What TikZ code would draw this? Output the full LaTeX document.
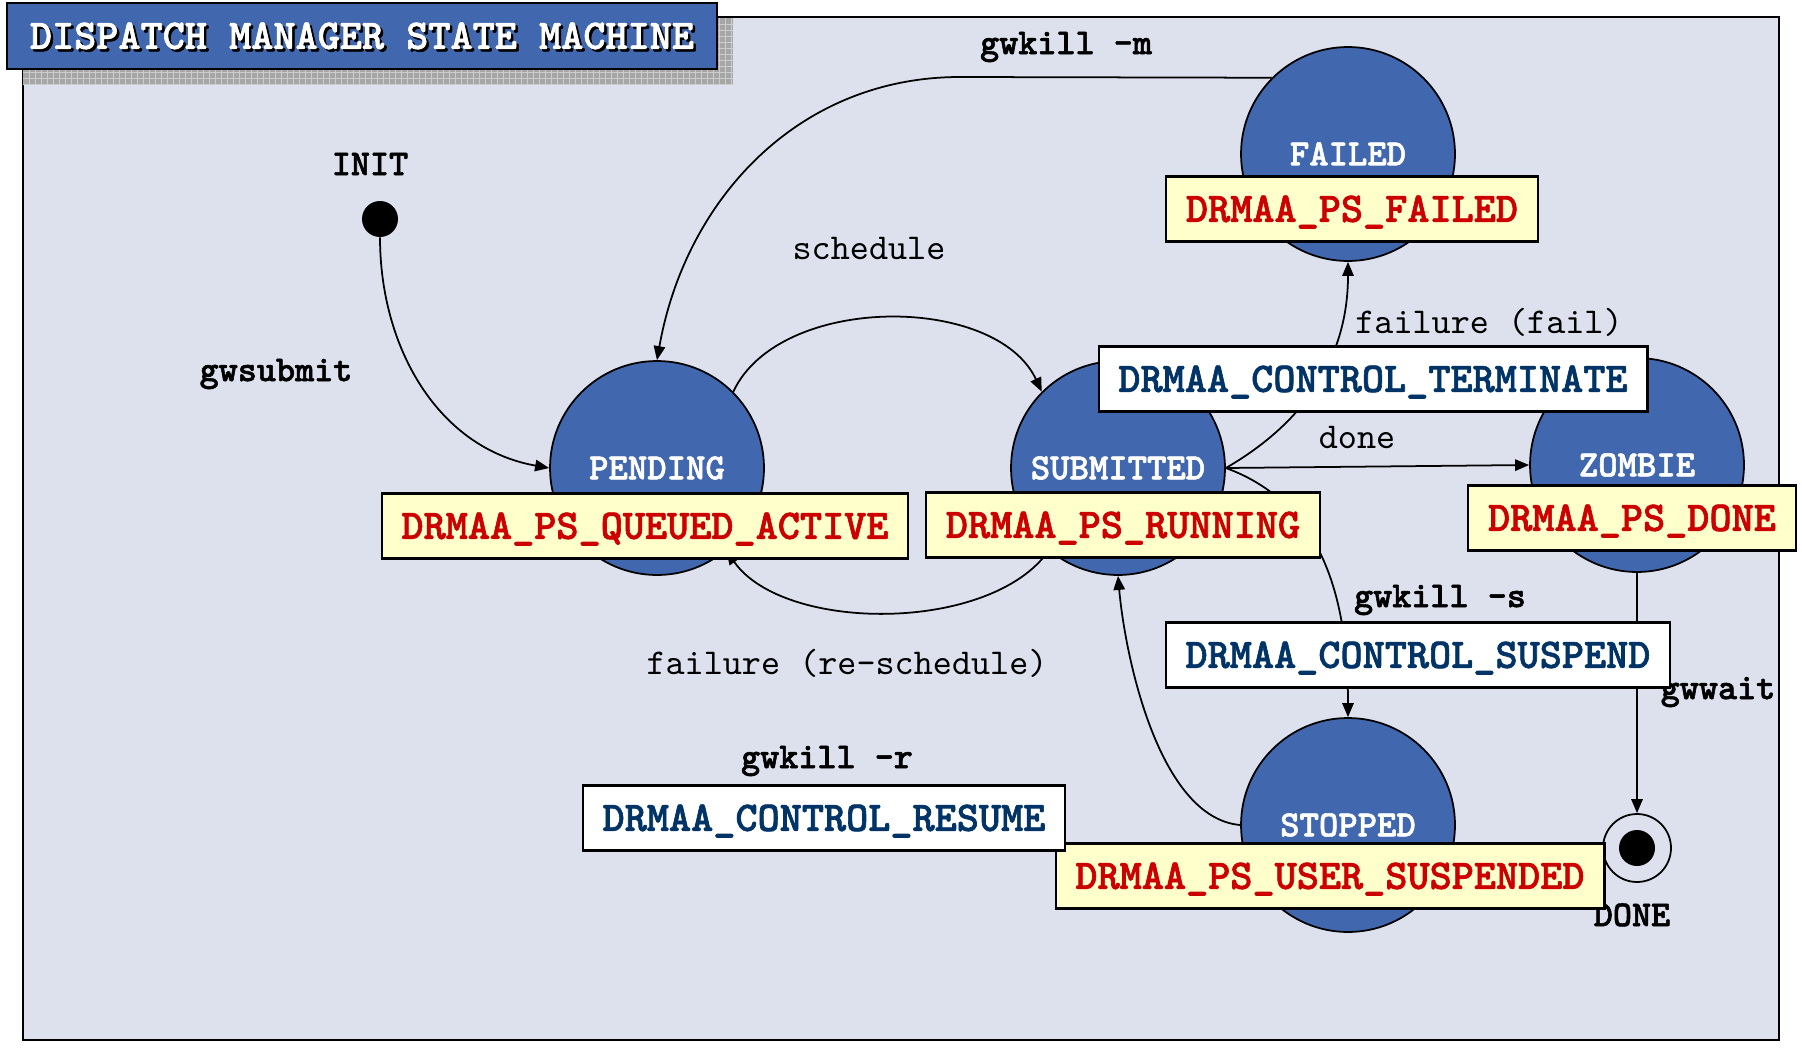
\documentclass[tikz,border=0pt]{standalone}
\usepackage{fontspec}
\setmonofont{lmmono10-regular.otf}[BoldFont=lmmonolt10-bold.otf, BoldFeatures={FakeBold=1.5}]
\usetikzlibrary{arrows.meta}

\definecolor{framebg}{RGB}{220,225,237}
\definecolor{stateblue}{RGB}{65,104,174}
\definecolor{psyellow}{RGB}{255,255,204}
\definecolor{psred}{RGB}{204,0,0}
\definecolor{ctlblue}{RGB}{0,51,102}

\tikzset{
  state/.style={circle, draw=black, line width=1pt, fill=stateblue, minimum size=4.28cm, inner sep=0pt,
    text=white, font=\ttfamily\bfseries\fontsize{21}{23}\selectfont, text height=12.8pt, text depth=0pt},
  psbox/.style={draw=black, line width=1.2pt, fill=psyellow, text=psred,
    font=\ttfamily\bfseries\fontsize{24}{26}\selectfont, inner xsep=11.3pt, inner ysep=2pt, minimum height=37pt,
    text height=14.6pt, text depth=0pt},
  ctlbox/.style={psbox, fill=white, text=ctlblue},
  cmd/.style={font=\ttfamily\bfseries\fontsize{20.7}{23}\selectfont, text height=12.6pt, text depth=0pt, inner sep=0pt},
  evt/.style={cmd, font=\ttfamily\fontsize{20.7}{23}\selectfont},
  titletext/.style={font=\ttfamily\bfseries\fontsize{24}{26}\selectfont, text height=14.6pt, text depth=0pt},
  trans/.style={line width=1pt, -{Triangle[length=8pt,width=6.5pt]}}
}

\begin{document}
\begin{tikzpicture}[x=0.02cm, y=-0.02cm]
\useasboundingbox (0,0) rectangle (1802,1048);

%draw frame
\draw[fill=framebg, line width=1pt] (23,17) rectangle (1779,1040);

%draw title shadow
\fill[gray!70] (23,18) rectangle (733,84);
\foreach \x in {29,35,...,733}
\draw[gray!40, line width=.3pt] (\x,18) -- (\x,84);
\foreach \y in {24,30,...,84}
\draw[gray!40, line width=.3pt] (23,\y) -- (733,\y);

%draw title
\node[draw=black, line width=1.5pt, fill=stateblue, minimum width=14.2cm, minimum height=1.32cm] (title) at (362,36) {};
\node[titletext, text=black] (titleshadow) at ([shift={(2.5,2.5)}]title.center) {DISPATCH MANAGER STATE MACHINE};
\node[titletext, text=white] (titletxt) at (title.center) {DISPATCH MANAGER STATE MACHINE};

%draw states
\node[state] (pend) at (657,468) {PENDING};
\node[state] (sub) at (1118,468) {SUBMITTED};
\node[state] (fail) at (1348,154) {FAILED};
\node[state] (zomb) at (1637,465) {ZOMBIE};
\node[state] (stop) at (1348,825) {STOPPED};

\node[circle, fill=black, minimum size=.72cm, inner sep=0pt] (init) at (380,219) {};
\node[circle, draw=black, line width=1pt, minimum size=1.36cm, inner sep=0pt] (done) at (1637,848) {};
\node[circle, fill=black, minimum size=.72cm, inner sep=0pt] (donedot) at (done.center) {};

%draw transitions
\coordinate (mbend) at (960,77);
\draw[trans] (init.south) to[out=-90,in=170] (pend.west);
\draw[trans] (fail.135) -- (mbend) to[out=180,in=80] (pend.north);
\draw[trans] (pend.45) to[out=65,in=115,looseness=.9] (sub.135);
\draw[trans] (sub.-130) to[out=-125,in=-55,looseness=.8] (pend.-50);
\draw[trans] (sub.east) to[out=30,in=-90] (fail.south);
\draw[trans] (sub.east) -- (zomb.west);
\draw[trans] (sub.east) to[out=-20,in=90] (stop.north);
\draw[trans] (stop.west) to[out=175,in=-85,looseness=.75] (sub.south);
\draw[trans] (zomb.south) -- (done.north);

%draw labels
\node[cmd] (initlbl) at (370,164) {INIT};
\node[cmd] (submitlbl) at (276,370) {gwsubmit};
\node[cmd] (killmlbl) at (1066,43) {gwkill -m};
\node[evt] (schedlbl) at (869,248) {schedule};
\node[evt] (faillbl) at (1489,322) {failure (fail)};
\node[evt] (donelbl) at (1357,437) {done};
\node[cmd] (killslbl) at (1440,596) {gwkill -s};
\node[cmd] (waitlbl) at (1718,688) {gwwait};
\node[evt] (reschedlbl) at (847,663) {failure (re-schedule)};
\node[cmd] (killrlbl) at (827,757) {gwkill -r};
\node[cmd] (donestlbl) at (1632,915) {DONE};

%draw drmaa boxes
\node[psbox] (pendps) at (645,526) {DRMAA\_PS\_QUEUED\_ACTIVE};
\node[psbox] (subps) at (1123,525) {DRMAA\_PS\_RUNNING};
\node[psbox] (failps) at (1352,209) {DRMAA\_PS\_FAILED};
\node[psbox] (zombps) at (1632,518) {DRMAA\_PS\_DONE};
\node[psbox] (stopps) at (1330,876) {DRMAA\_PS\_USER\_SUSPENDED};
\node[ctlbox] (termctl) at (1373,379) {DRMAA\_CONTROL\_TERMINATE};
\node[ctlbox] (suspctl) at (1418,655) {DRMAA\_CONTROL\_SUSPEND};
\node[ctlbox] (resctl) at (824,818) {DRMAA\_CONTROL\_RESUME};
\end{tikzpicture}
\end{document}
